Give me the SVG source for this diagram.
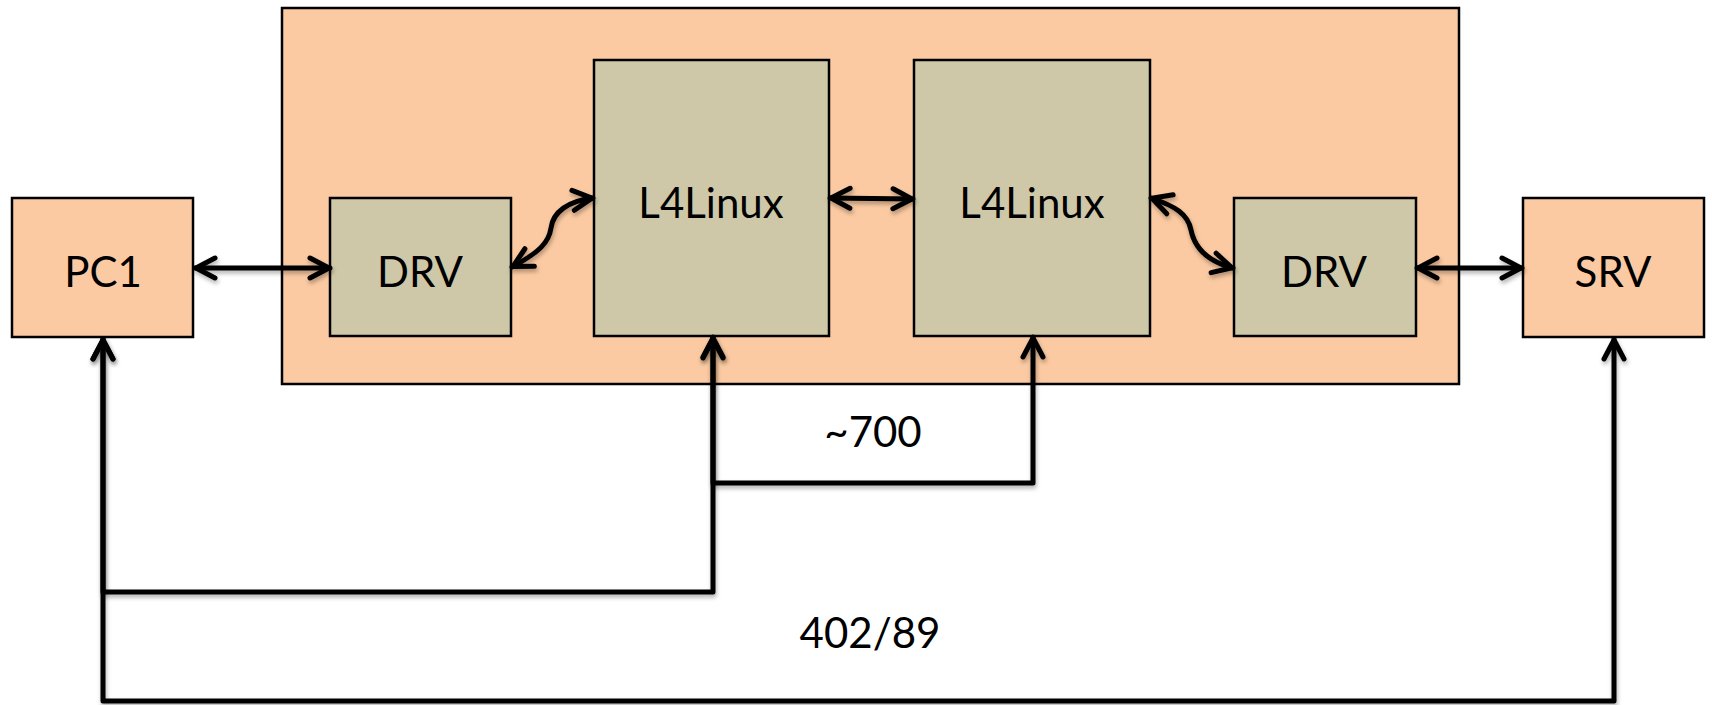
<svg xmlns="http://www.w3.org/2000/svg" width="1712" height="705" viewBox="0 0 1712 705">
<style>
.orange{fill:#FBCAA2;stroke:#000;stroke-width:2.5}
.khaki{fill:#CEC8A8;stroke:#000;stroke-width:2.5}
.lbl{font-family:Lato,"Open Sans","Liberation Sans",sans-serif;font-size:42px;fill:#000;text-anchor:middle}
.conn{fill:none;stroke:#000;stroke-width:5;stroke-linejoin:round;stroke-linecap:round;marker-start:url(#ah);marker-end:url(#ah);filter:url(#sh)}
</style>
<defs>
<marker id="ah" markerUnits="userSpaceOnUse" markerWidth="40" markerHeight="40" viewBox="-30 -20 40 40" refX="1" refY="0" orient="auto-start-reverse" overflow="visible">
<path d="M-19,-10 L0,0 L-19,10" fill="none" stroke="#000" stroke-width="5" stroke-linecap="round" stroke-linejoin="round"/>
</marker>
<filter id="sh" filterUnits="userSpaceOnUse" x="0" y="0" width="1712" height="705">
<feDropShadow dx="1" dy="3" stdDeviation="2" flood-color="#000" flood-opacity="0.3"/>
</filter>
</defs>
<g id="container"><rect class="orange" x="282" y="8" width="1177" height="376"/></g>
<g id="pc1"><rect class="orange" x="12" y="198" width="181" height="139"/><text class="lbl" x="103" y="287">PC1</text></g>
<g id="drv1"><rect class="khaki" x="330" y="198" width="181" height="138"/><text class="lbl" x="420" y="287">DRV</text></g>
<g id="l4linux1"><rect class="khaki" x="594" y="60" width="235" height="276"/><text class="lbl" x="711" y="218">L4Linux</text></g>
<g id="l4linux2"><rect class="khaki" x="914" y="60" width="236" height="276"/><text class="lbl" x="1032" y="218">L4Linux</text></g>
<g id="drv2"><rect class="khaki" x="1234" y="198" width="182" height="138"/><text class="lbl" x="1324" y="287">DRV</text></g>
<g id="srv"><rect class="orange" x="1523" y="198" width="181" height="139"/><text class="lbl" x="1613" y="287">SRV</text></g>
<g id="connectors">
<path class="conn" d="M195,268 L330,268"/>
<path class="conn" d="M512,267 C540,252 549,242 551,228 C553,212 568,201 593,198"/>
<path class="conn" d="M830,198 L913,199"/>
<path class="conn" d="M1151,198 C1175,206 1188,214 1191,230 C1195,250 1210,262 1233,268"/>
<path class="conn" d="M1417,268 L1522,268"/>
<path class="conn" d="M103,339 V592 H713 V337"/>
<path class="conn" d="M713,338 V483 H1033 V337"/>
<path class="conn" d="M103,339 V701 H1614 V339"/>
</g>
<g id="labels">
<text class="lbl" x="873" y="447">~700</text>
<text class="lbl" x="870" y="648">402/89</text>
</g>
</svg>
